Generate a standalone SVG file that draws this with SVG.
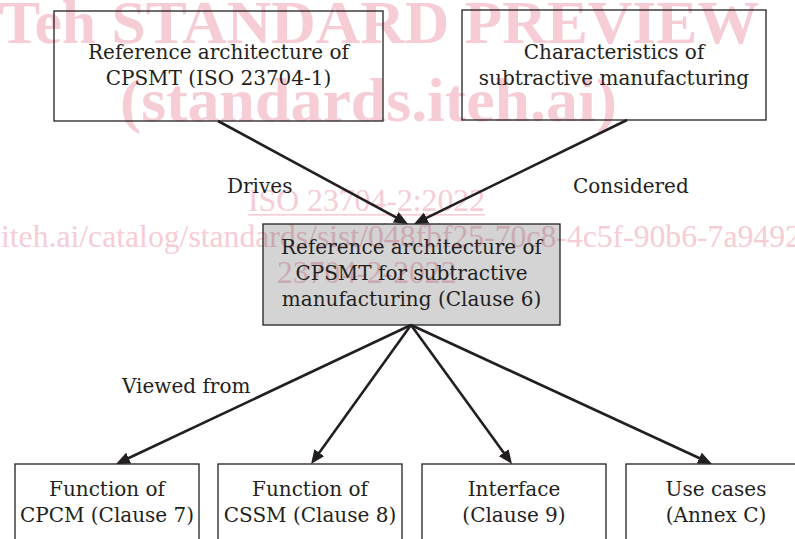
<svg xmlns="http://www.w3.org/2000/svg" width="795" height="539" viewBox="0 0 795 539">
<style>
  .wm { fill: #f6ccd5; font-family: "Liberation Serif", serif; }
  .wmb { font-weight: bold; font-size: 62px; }
  .wmr { font-size: 31.7px; }
  .box { fill: none; stroke: #231f20; stroke-width: 1.3; }
  .grey { fill: #000000; fill-opacity: 0.17; stroke: #231f20; stroke-width: 1.3; }
  .t { font-family: "DejaVu Serif", "Liberation Serif", serif; font-size: 20px; fill: #231f20; text-anchor: middle; }
  .lbl { font-family: "DejaVu Serif", "Liberation Serif", serif; font-size: 20px; fill: #231f20; }
  .edge { stroke: #231f20; stroke-width: 2.6; fill: none; marker-end: url(#ah); }
</style>
<defs>
  <marker id="ah" viewBox="0 0 14 12" refX="4" refY="6" markerWidth="14" markerHeight="12" markerUnits="userSpaceOnUse" orient="auto">
    <path d="M0,0 L14,6 L0,12 z" fill="#231f20"/>
  </marker>
</defs>
<rect x="0" y="0" width="795" height="539" fill="#ffffff"/>
<g id="watermark" class="wm">
  <text class="wmb" x="-1" y="43" textLength="760" lengthAdjust="spacingAndGlyphs">Teh STANDARD PREVIEW</text>
  <text class="wmb" x="120" y="121" textLength="497" lengthAdjust="spacingAndGlyphs">(standards.iteh.ai)</text>
  <text class="wmr" x="248" y="211" textLength="237" lengthAdjust="spacingAndGlyphs">ISO 23704-2:2022</text>
  <rect x="248" y="214" width="237" height="1.6"/>
  <text class="wmr" x="1" y="247">iteh.ai/catalog/standards/sist/048fbf25-70c8-4c5f-90b6-7a9492</text>
  <text class="wmr" x="277" y="283">23704-2-2022</text>
</g>
<g id="n1">
  <rect class="box" x="54" y="11" width="329" height="110"/>
  <text class="t" x="218.5" y="59">Reference architecture of</text>
  <text class="t" x="218.5" y="85">CPSMT (ISO 23704-1)</text>
</g>
<g id="n2">
  <rect class="box" x="462" y="10" width="304" height="110"/>
  <text class="t" x="614" y="59">Characteristics of</text>
  <text class="t" x="614" y="85">subtractive manufacturing</text>
</g>
<g id="n3">
  <rect class="grey" x="263" y="224" width="297" height="101"/>
  <text class="t" x="411.5" y="254">Reference architecture of</text>
  <text class="t" x="411.5" y="280">CPSMT for subtractive</text>
  <text class="t" x="411.5" y="306">manufacturing (Clause 6)</text>
</g>
<g id="n4">
  <rect class="box" x="15" y="464" width="184" height="90"/>
  <text class="t" x="107" y="496">Function of</text>
  <text class="t" x="107" y="522">CPCM (Clause 7)</text>
</g>
<g id="n5">
  <rect class="box" x="218" y="464" width="184" height="90"/>
  <text class="t" x="310" y="496">Function of</text>
  <text class="t" x="310" y="522">CSSM (Clause 8)</text>
</g>
<g id="n6">
  <rect class="box" x="422" y="464" width="184" height="90"/>
  <text class="t" x="514" y="496">Interface</text>
  <text class="t" x="514" y="522">(Clause 9)</text>
</g>
<g id="n7">
  <rect class="box" x="626" y="464" width="184" height="90"/>
  <text class="t" x="716" y="496">Use cases</text>
  <text class="t" x="716" y="522">(Annex C)</text>
</g>
<g id="connectors">
  <line class="edge" x1="218" y1="121" x2="399.2" y2="219.2"/>
  <line class="edge" x1="627" y1="120" x2="423" y2="219.6"/>
  <line class="edge" x1="411" y1="325" x2="125.1" y2="459.8"/>
  <line class="edge" x1="411" y1="325" x2="316.9" y2="455.9"/>
  <line class="edge" x1="411" y1="325" x2="506.1" y2="455.9"/>
  <line class="edge" x1="411" y1="325" x2="702.9" y2="459.8"/>
  <text class="lbl" x="227" y="193">Drives</text>
  <text class="lbl" x="573" y="193">Considered</text>
  <text class="lbl" x="122" y="393">Viewed from</text>
</g>
</svg>
